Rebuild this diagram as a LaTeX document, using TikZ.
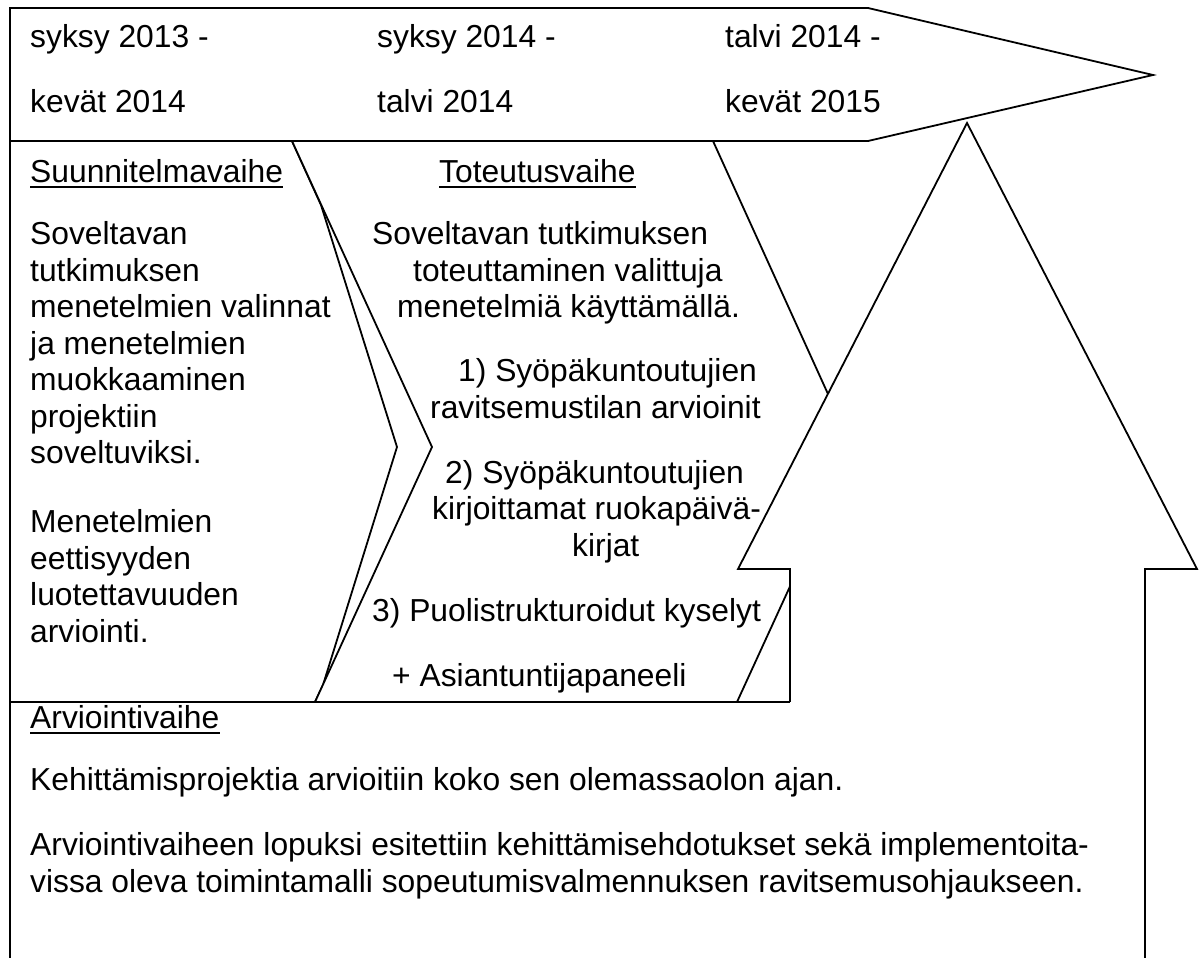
\documentclass[tikz,border=0pt]{standalone}
\usepackage{fontspec}
\setmainfont{Liberation Sans}
\begin{document}
\begin{tikzpicture}[x=1pt,y=-1pt,
  outline/.style={draw=black, line width=1.8pt, line join=miter, fill=white},
  edge/.style={draw=black, line width=1.8pt},
  lbl/.style={inner sep=0pt, anchor=base west, font=\fontsize{31.8}{36.6}\selectfont},
  uline/.style={line width=1.8pt}]
\useasboundingbox (0,0) rectangle (1203,958);
\fill[white] (0,0) rectangle (1203,958);

% timeline arrow across the top
\draw[outline] (10,8) -- (868,8) -- (1153,75) -- (868,141) -- (10,141) -- cycle;
% planning phase panel
\draw[outline] (10,141) -- (292,141) -- (321,205) -- (397,447) -- (323,685) -- (315,702) -- (10,702) -- cycle;
% implementation phase chevron
\draw[outline] (292,141) -- (713,141) -- (853,449) -- (737,702) -- (315,702) -- (432,447) -- cycle;
% upward arrow
\draw[outline] (967,123) -- (1197,569) -- (1145,569) -- (1145,975) -- (790,975) -- (790,569) -- (738,569) -- cycle;
% evaluation phase panel
\fill[white] (10,702) rectangle (1145,975);
\draw[edge] (10,975) -- (10,702) -- (790,702);
\draw[edge] (1145,702) -- (1145,975);

% time periods
\node[lbl] (p1a) at (30,48) {syksy 2013 -};
\node[lbl] (p1b) at (30,113) {kevät 2014};
\node[lbl] (p2a) at (377,48) {syksy 2014 -};
\node[lbl] (p2b) at (377,113) {talvi 2014};
\node[lbl] (p3a) at (725,48) {talvi 2014 -};
\node[lbl] (p3b) at (725,113) {kevät 2015};

% planning phase
\node[lbl] (h1) at (30,182) {Suunnitelmavaihe};
\draw[uline] ([yshift=-5pt]h1.base west) -- ([yshift=-5pt]h1.base east);
\node[lbl] (s1) at (30,244) {Soveltavan};
\node[lbl] (s2) at (30,281) {tutkimuksen};
\node[lbl] (s3) at (30,317) {menetelmien valinnat};
\node[lbl] (s4) at (30,354) {ja menetelmien};
\node[lbl] (s5) at (30,390) {muokkaaminen};
\node[lbl] (s6) at (30,427) {projektiin};
\node[lbl] (s7) at (30,463) {soveltuviksi.};
\node[lbl] (e1) at (30,532) {Menetelmien};
\node[lbl] (e2) at (30,569) {eettisyyden};
\node[lbl] (e3) at (30,605) {luotettavuuden};
\node[lbl] (e4) at (30,642) {arviointi.};

% implementation phase
\node[lbl] (h2) at (439,182) {Toteutusvaihe};
\draw[uline] ([yshift=-5pt]h2.base west) -- ([yshift=-5pt]h2.base east);
\node[lbl] (t1) at (372,244) {Soveltavan tutkimuksen};
\node[lbl] (t2) at (413,281) {toteuttaminen valittuja};
\node[lbl] (t3) at (397,317) {menetelmiä käyttämällä.};
\node[lbl] (m1a) at (458,381) {1) Syöpäkuntoutujien};
\node[lbl] (m1b) at (430,418) {ravitsemustilan arvioinit};
\node[lbl] (m2a) at (445,483) {2) Syöpäkuntoutujien};
\node[lbl] (m2b) at (432,519) {kirjoittamat ruokapäivä-};
\node[lbl] (m2c) at (572,556) {kirjat};
\node[lbl] (m3) at (372,621) {3) Puolistrukturoidut kyselyt};
\node[lbl] (m4) at (392,686) {+ Asiantuntijapaneeli};

% evaluation phase
\node[lbl] (h3) at (30,728) {Arviointivaihe};
\draw[uline] ([yshift=-5pt]h3.base west) -- ([yshift=-5pt]h3.base east);
\node[lbl] (a1) at (30,790) {Kehittämisprojektia arvioitiin koko sen olemassaolon ajan.};
\node[lbl] (a2) at (30,855) {Arviointivaiheen lopuksi esitettiin kehittämisehdotukset sekä implementoita-};
\node[lbl] (a3) at (30,892) {vissa oleva toimintamalli sopeutumisvalmennuksen ravitsemusohjaukseen.};
\end{tikzpicture}
\end{document}
